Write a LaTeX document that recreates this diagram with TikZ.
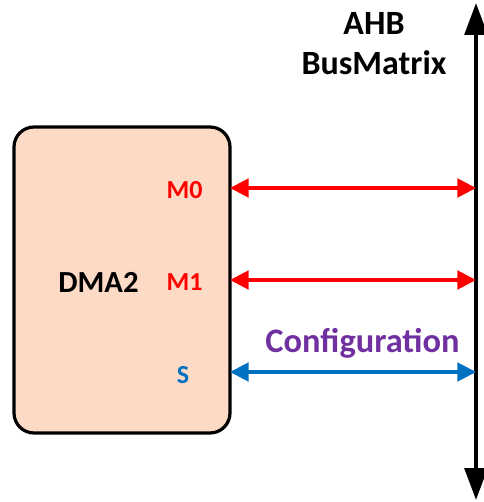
\documentclass[tikz,border=0pt]{standalone}
\usepackage{fontspec}
\setmainfont{Carlito}
\usetikzlibrary{arrows.meta}
\definecolor{peach}{HTML}{FCDAC6}
\definecolor{sigred}{HTML}{FF0000}
\definecolor{sigblue}{HTML}{0070C0}
\definecolor{cfgpurple}{HTML}{7030A0}
\begin{document}
\begin{tikzpicture}[x=0.75pt,y=-0.75pt,
  blockbox/.style={draw=black,line width=2.4pt,fill=peach,rounded corners=15pt,
    minimum width=216*0.75pt,minimum height=306*0.75pt,inner sep=0pt},
  portlbl/.style={font=\bfseries\fontsize{19.5}{23}\selectfont,inner sep=0pt},
  titlelbl/.style={font=\bfseries\fontsize{25.5}{30}\selectfont,inner sep=0pt,anchor=base},
  link/.style={line width=2.3pt,{Triangle[length=14pt,width=14pt]}-{Triangle[length=14pt,width=14pt]}},
  busline/.style={line width=3pt,{Triangle[length=24pt,width=17pt]}-{Triangle[length=24pt,width=17pt]}}]
\useasboundingbox (0,0) rectangle (483,502);
\node[blockbox] (dma) at (122,280) {};
\node[font=\bfseries\fontsize{23}{27}\selectfont,inner sep=0pt] (dmalbl) at (98.5,282) {DMA2};
\node[portlbl,text=sigred] (m0) at (184.5,190) {M0};
\node[portlbl,text=sigred] (m1) at (184.5,282) {M1};
\node[portlbl,text=sigblue] (s) at (183,375) {S};
\coordinate (bustop) at (476,3);
\coordinate (busbot) at (476,500);
\draw[busline] (busbot) -- (bustop);
\node[titlelbl] (ahb) at (374,35) {AHB};
\node[titlelbl] (bm) at (374,75) {BusMatrix};
\coordinate (p0) at (230,188);
\coordinate (p1) at (230,280);
\coordinate (p2) at (230,372);
\draw[link,sigred] (p0) -- (bustop |- p0);
\draw[link,sigred] (p1) -- (bustop |- p1);
\draw[link,sigblue] (p2) -- (bustop |- p2);
\node[font=\bfseries\fontsize{25.8}{30}\selectfont,text=cfgpurple,inner sep=0pt,anchor=base] (cfg) at (362.5,352) {Configuration};
\end{tikzpicture}
\end{document}
